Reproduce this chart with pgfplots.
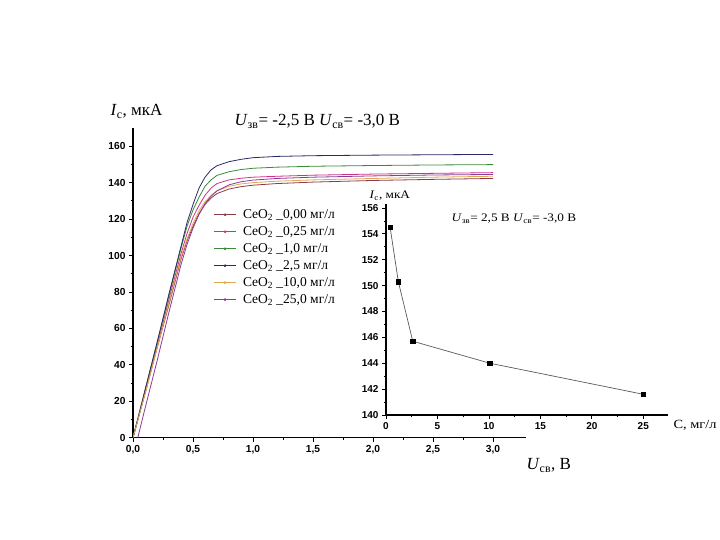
\documentclass[border=0pt]{standalone}
\usepackage{pgfplots}
\pgfplotsset{compat=1.18}
\usepackage{fontspec}
\setmainfont{Liberation Serif}
\newfontfamily\arial{Liberation Sans}
\newfontfamily\serifw[FakeStretch=1.15]{Liberation Serif}
\definecolor{cmaroon}{HTML}{8B3A4A}
\definecolor{cmag}{HTML}{CC3388}
\definecolor{cgreen}{HTML}{3A8A3A}
\definecolor{cnavy}{HTML}{2A2A66}
\definecolor{corange}{HTML}{E0A850}
\definecolor{cpurple}{HTML}{8A3A9A}
\begin{document}
\begin{tikzpicture}
\path[use as bounding box] (0pt,0pt) rectangle (720pt,540pt);
\begin{axis}[
  at={(133pt,102.3pt)}, anchor=south west,
  scale only axis, width=393pt, height=309.7pt,
  xmin=0, xmax=3.275, ymin=0, ymax=170,
  axis lines=left, axis line style={-, line width=1.2pt},
  tick align=outside, tick style={black, line width=0.8pt},
  major tick length=4pt, minor tick length=2.5pt,
  xtick={0,0.5,...,3.0}, ytick={0,20,...,160}, minor tick num=1,
  /pgf/number format/assume math mode=true,
  x tick label style={/pgf/number format/.cd, fixed, fixed zerofill, precision=1, use comma},
  tick label style={font=\arial\bfseries\fontsize{10.2}{11}\selectfont},
  legend style={at={(axis cs:0.665,127)}, anchor=north west, draw=none, fill=none,
    font=\fontsize{13.5}{15}\selectfont, row sep=2.5pt, inner sep=1pt},
  legend cell align=left,
  legend image code/.code={\draw[#1, line width=0.8pt] (0,0) -- (0.75cm,0); \fill[#1] (0.375cm,0) circle (0.9pt); \path (0.75cm+5pt,0);},
]
\addplot[cmaroon, line width=0.8pt] coordinates {(0,0)(0.1,24)(0.2,49)(0.3,73)(0.4,98)(0.45,108)(0.5,116)(0.55,123)(0.6,128)(0.65,131.5)(0.7,134)(0.8,136.5)(0.9,137.8)(1.0,138.6)(1.2,139.5)(1.5,140.3)(2.0,141.2)(2.5,141.8)(3.0,142.3)};
\addlegendentry{CeO\textsubscript{2} \_0,00 мг/л}
\addplot[cmag, line width=0.8pt] coordinates {(0,0)(0.1,25)(0.2,50)(0.3,76)(0.4,101)(0.45,112)(0.5,121)(0.55,127.5)(0.6,133)(0.65,137)(0.7,139.5)(0.8,141.5)(0.9,142.4)(1.0,143)(1.2,143.5)(1.5,144.1)(2.0,144.7)(2.5,145.1)(3.0,145.5)};
\addlegendentry{CeO\textsubscript{2} \_0,25 мг/л}
\addplot[cgreen, line width=0.8pt] coordinates {(0,0)(0.1,26)(0.2,52)(0.3,78)(0.4,104)(0.45,116)(0.5,125)(0.55,132)(0.6,138)(0.65,141.5)(0.7,144)(0.8,146)(0.9,147.2)(1.0,147.9)(1.2,148.5)(1.5,149)(2.0,149.4)(2.5,149.7)(3.0,149.9)};
\addlegendentry{CeO\textsubscript{2} \_1,0 мг/л}
\addplot[cnavy, line width=0.8pt] coordinates {(0,0)(0.1,26)(0.2,52)(0.3,79)(0.4,105)(0.45,118)(0.5,128)(0.55,137)(0.6,143)(0.65,147)(0.7,149.3)(0.8,151.5)(0.9,152.8)(1.0,153.7)(1.2,154.4)(1.5,154.8)(2.0,155.1)(2.5,155.3)(3.0,155.5)};
\addlegendentry{CeO\textsubscript{2} \_2,5 мг/л}
\addplot[corange, line width=0.8pt] coordinates {(0,0)(0.1,24)(0.2,49)(0.3,74)(0.4,99)(0.45,109)(0.5,117.5)(0.55,124.5)(0.6,129.5)(0.65,133)(0.7,135.5)(0.8,138)(0.9,139.3)(1.0,140)(1.2,140.8)(1.5,141.5)(2.0,142.3)(2.5,143)(3.0,143.5)};
\addlegendentry{CeO\textsubscript{2} \_10,0 мг/л}
\addplot[cpurple, line width=0.8pt] coordinates {(0.04,0)(0.1,16)(0.2,42)(0.3,69)(0.4,95)(0.45,106)(0.5,115)(0.55,122.5)(0.6,128.5)(0.65,132.5)(0.7,135.5)(0.8,138.8)(0.9,140.5)(1.0,141.4)(1.2,142.3)(1.5,143)(2.0,143.7)(2.5,144.2)(3.0,144.5)};
\addlegendentry{CeO\textsubscript{2} \_25,0 мг/л}
\end{axis}
\begin{axis}[
  at={(386pt,125pt)}, anchor=south west,
  scale only axis, width=282pt, height=210.9pt,
  xmin=0, xmax=27.4, ymin=140, ymax=156.3,
  axis lines=left, axis line style={-, line width=1.2pt},
  tick align=outside, tick style={black, line width=0.8pt},
  major tick length=4pt, minor tick length=2.5pt,
  xtick={0,5,...,25}, ytick={140,142,...,156}, minor tick num=1,
  /pgf/number format/assume math mode=true,
  tick label style={font=\arial\bfseries\fontsize{10}{11}\selectfont},
]
\addplot[black!65, line width=0.7pt, mark=square*, mark size=2.2pt, mark options={black, fill=black}] coordinates {(0.4,154.5)(1.2,150.3)(2.6,145.7)(10.1,144.0)(25,141.6)};
\end{axis}
\node[anchor=base west, font=\fontsize{17}{20}\selectfont] at (107pt,424pt) {\textit{I}\textsubscript{с}, мкА};
\node[anchor=base west, font=\fontsize{17}{20}\selectfont] at (231pt,414pt) {\textit{U}\textsubscript{зв}= -2,5 В \textit{U}\textsubscript{св}= -3,0 В};
\node[anchor=base west, font=\fontsize{17}{20}\selectfont] at (523pt,70pt) {\textit{U}\textsubscript{св}, В};
\node[anchor=base west, font=\serifw\fontsize{11.5}{13}\selectfont] at (366pt,341pt) {\textit{I}\textsubscript{с}, мкА};
\node[anchor=base west, font=\serifw\fontsize{11.5}{13}\selectfont] at (448pt,318pt) {\textit{U}\textsubscript{зв}= 2,5 В \textit{U}\textsubscript{св}= -3,0 В};
\node[anchor=base west, font=\serifw\fontsize{12.5}{14}\selectfont] at (670pt,111pt) {С, мг/л};
\end{tikzpicture}
\end{document}
